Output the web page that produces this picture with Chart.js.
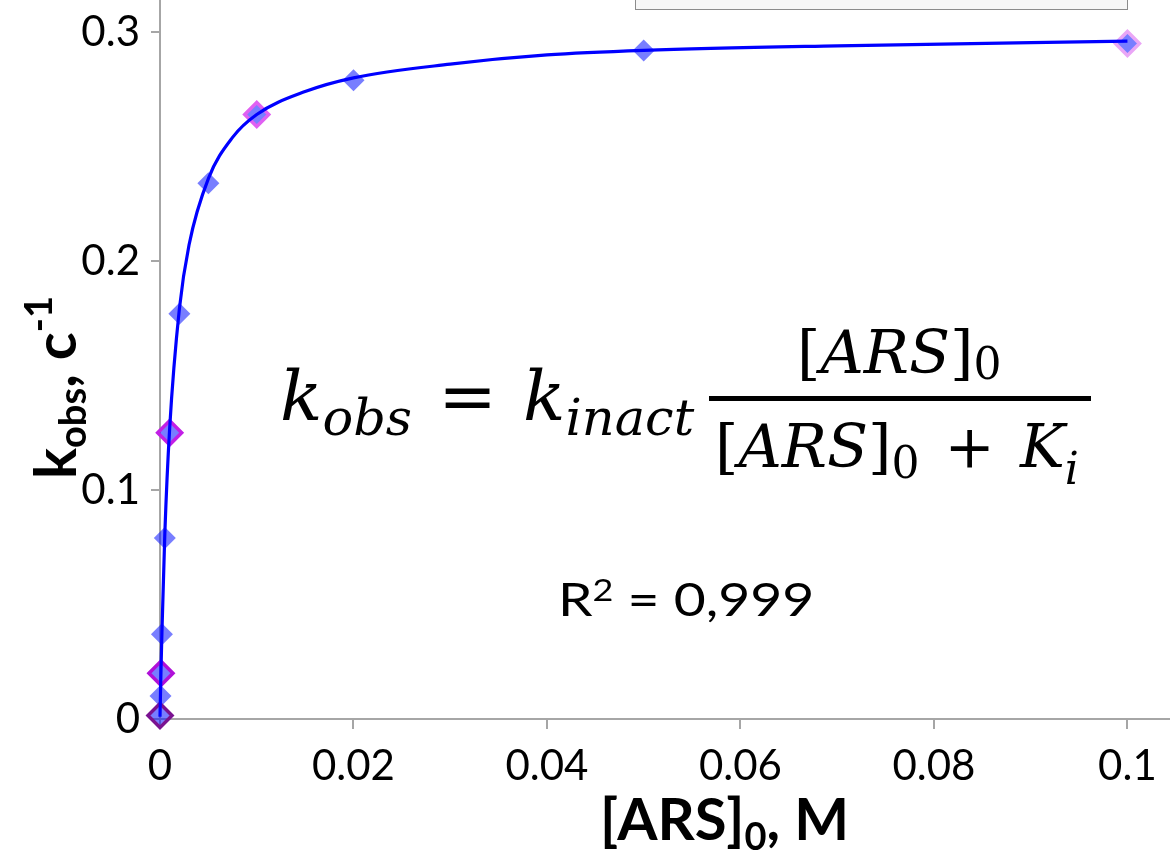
<!DOCTYPE html>
<html>
<head>
<meta charset="utf-8">
<script src="https://cdn.jsdelivr.net/npm/chart.js@4/dist/chart.umd.min.js"></script>
<style>
  body { margin: 0; background: #fff; }
  #wrap { position: relative; width: 1170px; height: 854px; overflow: hidden; }
  #c { position: absolute; left: 0; top: 0; }
  .ov { position: absolute; white-space: nowrap; color: #000; line-height: 1; }
  .eq { font-family: 'DejaVu Serif', serif; font-style: italic; }
  .eq .up { font-style: normal; }
  .eq sub { line-height: 0; }
  .ttl { font-family: Lato, sans-serif; font-weight: bold; font-size: 58px; }
  .ttl sub, .ttl sup { font-size: 38px; line-height: 0; }
</style>
</head>
<body>
<div id="wrap">
  <canvas id="c" width="1170" height="854"></canvas>

  <!-- legend box cut off at the top -->
  <div style="position:absolute;left:635px;top:-3px;width:491px;height:11px;background:#f7f7f7;border:1px solid #8c8c8c;"></div>

  <!-- equation -->
  <div class="ov eq" style="left:280px;top:361px;font-size:70px;">k<sub style="font-size:51px;vertical-align:-15px;">obs</sub><span class="up" style="margin:0 4px;"> = </span>k<sub style="font-size:51px;vertical-align:-15px;">inact</sub></div>
  <div class="ov eq" style="left:797px;top:322px;font-size:60px;"><span class="up">[</span>ARS<span class="up">]</span><sub class="up" style="font-size:44px;vertical-align:-6px;">0</sub></div>
  <div style="position:absolute;left:709px;top:396px;width:382px;height:5px;background:#000;"></div>
  <div class="ov eq" style="left:715px;top:416px;font-size:60px;"><span class="up">[</span>ARS<span class="up">]</span><sub class="up" style="font-size:44px;vertical-align:-11px;">0</sub><span class="up" style="margin:0 6px;"> + </span>K<sub style="font-size:44px;vertical-align:-17px;">i</sub></div>

  <!-- R squared -->
  <div class="ov" style="left:558px;top:576px;font-family:Lato,sans-serif;font-size:46px;transform:scaleX(1.2);transform-origin:left top;">R<sup style="font-size:30px;vertical-align:15px;line-height:0;">2</sup> = 0,999</div>

  <!-- axis titles -->
  <div class="ov ttl" style="left:600px;top:789px;">[ARS]<sub style="vertical-align:-10px;">0</sub>, M</div>
  <div class="ov ttl" style="left:-46px;top:350px;width:200px;transform:rotate(-90deg);transform-origin:center;">k<sub style="vertical-align:-10px;">obs</sub>, c<sup style="vertical-align:24px;">-1</sup></div>
</div>

<script>
// measured points, [ARS]0 in M and kobs in 1/s
const concs = [0, 0.00005, 0.0001, 0.0002, 0.0005, 0.001, 0.002, 0.005, 0.01, 0.02, 0.05, 0.1];
const kobs  = [0.002, 0.010, 0.020, 0.037, 0.079, 0.125, 0.177, 0.234, 0.264, 0.279, 0.292, 0.295];

// points shown with an open (outlined) marker
const openConcs  = [0, 0.0001, 0.001, 0.01, 0.1];
const openKobs   = [0.0015, 0.020, 0.125, 0.264, 0.295];
const openColors = ['#7a1290', '#b010d8', '#c21fe6', '#e060f2', '#eaa6f6'];

// fitted curve
const fitX = [0, 0.00005, 0.0001, 0.0002, 0.0005, 0.001, 0.002, 0.003, 0.005, 0.0075, 0.01, 0.015, 0.02, 0.03, 0.04, 0.05, 0.07, 0.1];
const fitY = [0.001, 0.011, 0.021, 0.038, 0.081, 0.127, 0.179, 0.207, 0.236, 0.254, 0.264, 0.274, 0.280, 0.286, 0.290, 0.292, 0.294, 0.296];

const xTicks = [0, 0.02, 0.04, 0.06, 0.08, 0.1];
const xTickLabels = ['0', '0.02', '0.04', '0.06', '0.08', '0.1'];
const yTicks = [0, 0.1, 0.2, 0.3];
const yTickLabels = ['0', '0.1', '0.2', '0.3'];

const axisGrey = '#a6a6a6';
const tickFont = { family: 'Lato, sans-serif', size: 42 };

const pts = (xs, ys) => xs.map((x, i) => ({ x, y: ys[i] }));

new Chart(document.getElementById('c'), {
  type: 'scatter',
  data: {
    datasets: [
      {
        label: 'fit',
        data: pts(fitX, fitY),
        showLine: true,
        borderColor: '#0000ff',
        borderWidth: 3.2,
        pointRadius: 0,
        cubicInterpolationMode: 'monotone',
        clip: false,
        order: 0
      },
      {
        label: 'open',
        data: pts(openConcs, openKobs),
        pointStyle: 'rectRot',
        pointRadius: 12,
        pointBackgroundColor: 'rgba(0,0,0,0)',
        pointBorderColor: openColors,
        pointBorderWidth: 3.5,
        clip: false,
        order: 1
      },
      {
        label: 'kobs',
        data: pts(concs, kobs),
        pointStyle: 'rectRot',
        pointRadius: 11,
        pointBackgroundColor: 'rgba(10,20,255,0.55)',
        pointBorderWidth: 0,
        clip: false,
        order: 2
      }
    ]
  },
  options: {
    responsive: false,
    animation: false,
    layout: { padding: 0, autoPadding: false },
    plugins: { legend: { display: false }, tooltip: { enabled: false } },
    scales: {
      x: {
        type: 'linear',
        min: 0,
        max: 0.1044,
        afterBuildTicks: s => { s.ticks = xTicks.map(v => ({ value: v })); },
        afterFit: s => { s.height = 135; s.paddingLeft = 0; s.paddingRight = 0; },
        border: { color: axisGrey, width: 2 },
        grid: { drawOnChartArea: false, color: axisGrey, lineWidth: 2, tickLength: 10 },
        ticks: {
          font: tickFont, color: '#000', padding: 12, maxRotation: 0, autoSkip: false,
          callback: v => xTickLabels[xTicks.indexOf(v)]
        }
      },
      y: {
        type: 'linear',
        min: 0,
        max: 0.314,
        afterBuildTicks: s => { s.ticks = yTicks.map(v => ({ value: v })); },
        afterFit: s => { s.width = 160; s.paddingTop = 0; s.paddingBottom = 0; },
        border: { color: axisGrey, width: 2 },
        grid: { drawOnChartArea: false, color: axisGrey, lineWidth: 2, tickLength: 9 },
        ticks: {
          font: tickFont, color: '#000', padding: 11, autoSkip: false,
          callback: v => yTickLabels[yTicks.indexOf(v)]
        }
      }
    }
  }
});
</script>
</body>
</html>
